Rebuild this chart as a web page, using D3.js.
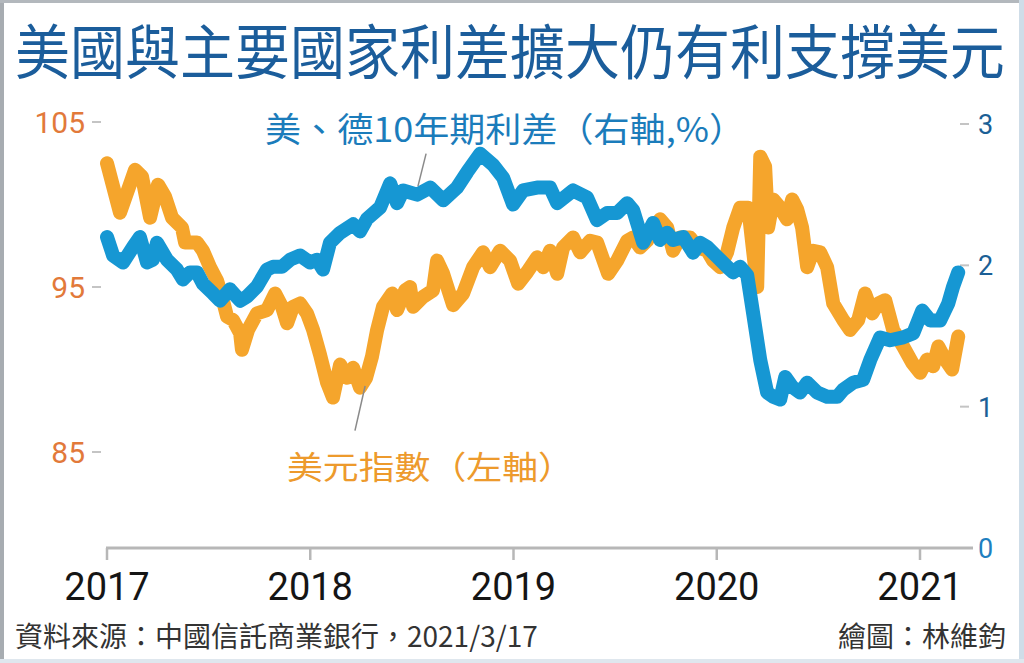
<!DOCTYPE html>
<html>
<head>
<meta charset="utf-8">
<script src="https://cdn.jsdelivr.net/npm/d3@7"></script>
<style>
  body { margin: 0; background: #fff; }
  svg { display: block; }
</style>
</head>
<body>
<div id="chart"></div>
<script>
// dollar index (left axis) - decimal year / value
var dollarYears = [2017.000, 2017.064, 2017.138, 2017.172, 2017.212, 2017.251, 2017.285, 2017.320, 2017.369, 2017.384,
  2017.443, 2017.472, 2017.507, 2017.541, 2017.566, 2017.591, 2017.620, 2017.655, 2017.664, 2017.694,
  2017.738, 2017.787, 2017.827, 2017.861, 2017.886, 2017.915, 2017.950, 2017.984, 2018.014, 2018.048,
  2018.083, 2018.112, 2018.147, 2018.181, 2018.211, 2018.245, 2018.275, 2018.304, 2018.329, 2018.358,
  2018.403, 2018.427, 2018.467, 2018.491, 2018.506, 2018.555, 2018.604, 2018.624, 2018.654, 2018.703,
  2018.752, 2018.801, 2018.850, 2018.885, 2018.934, 2018.983, 2019.023, 2019.067, 2019.116, 2019.146,
  2019.180, 2019.215, 2019.244, 2019.293, 2019.328, 2019.377, 2019.411, 2019.466, 2019.510, 2019.559,
  2019.589, 2019.623, 2019.657, 2019.721, 2019.756, 2019.785, 2019.820, 2019.869, 2019.904, 2019.953,
  2019.982, 2020.017, 2020.051, 2020.081, 2020.115, 2020.155, 2020.199, 2020.214, 2020.238, 2020.253,
  2020.278, 2020.312, 2020.346, 2020.371, 2020.396, 2020.420, 2020.445, 2020.474, 2020.509, 2020.543,
  2020.573, 2020.622, 2020.656, 2020.696, 2020.730, 2020.765, 2020.794, 2020.829, 2020.868, 2020.917,
  2020.962, 2021.001, 2021.035, 2021.065, 2021.090, 2021.124, 2021.158, 2021.188];
var dollarIndex = [102.5, 99.5, 102.1, 101.7, 99.2, 101.2, 100.5, 99.2, 98.6, 97.7,
  97.7, 97.2, 96.2, 95.4, 94.4, 93.2, 93.0, 92.2, 91.2, 92.4,
  93.4, 93.6, 94.6, 93.8, 92.8, 93.8, 94.0, 93.4, 92.4, 90.9,
  89.2, 88.3, 90.3, 89.5, 90.1, 88.9, 89.5, 90.8, 92.4, 93.8,
  94.6, 93.6, 94.8, 95.0, 93.8, 94.4, 94.8, 96.6, 95.8, 93.9,
  94.6, 96.2, 97.1, 96.2, 97.2, 96.6, 95.2, 95.9, 96.8, 96.2,
  97.2, 95.8, 97.4, 98.0, 97.1, 97.8, 97.7, 95.8, 96.6, 97.8,
  98.0, 97.4, 97.8, 99.1, 98.6, 97.2, 98.0, 98.0, 97.4, 97.2,
  96.6, 96.2, 97.1, 98.6, 99.8, 99.8, 95.0, 102.9, 102.3, 98.6,
  100.3, 99.8, 99.1, 100.3, 99.7, 98.6, 96.2, 97.2, 97.1, 96.2,
  94.0, 93.0, 92.4, 93.0, 94.6, 93.4, 94.0, 94.2, 92.4, 91.4,
  90.4, 89.8, 90.6, 90.2, 91.4, 90.6, 90.0, 92.0];

// US-German 10y spread (right axis, %)
var spreadYears = [2017.000, 2017.030, 2017.079, 2017.128, 2017.162, 2017.197, 2017.226, 2017.246, 2017.295, 2017.344,
  2017.374, 2017.408, 2017.443, 2017.472, 2017.522, 2017.556, 2017.605, 2017.655, 2017.689, 2017.738,
  2017.787, 2017.817, 2017.861, 2017.901, 2017.950, 2017.999, 2018.033, 2018.063, 2018.097, 2018.147,
  2018.211, 2018.245, 2018.280, 2018.344, 2018.393, 2018.427, 2018.457, 2018.526, 2018.590, 2018.654,
  2018.722, 2018.772, 2018.836, 2018.900, 2018.949, 2018.998, 2019.047, 2019.116, 2019.180, 2019.215,
  2019.293, 2019.362, 2019.411, 2019.461, 2019.510, 2019.559, 2019.589, 2019.638, 2019.687, 2019.721,
  2019.756, 2019.785, 2019.835, 2019.884, 2019.918, 2019.953, 2020.002, 2020.051, 2020.081, 2020.115,
  2020.150, 2020.179, 2020.214, 2020.248, 2020.278, 2020.312, 2020.337, 2020.371, 2020.410, 2020.445,
  2020.494, 2020.543, 2020.593, 2020.622, 2020.671, 2020.720, 2020.755, 2020.804, 2020.853, 2020.917,
  2020.967, 2021.011, 2021.050, 2021.099, 2021.139, 2021.163, 2021.188];
var spreadValues = [2.20, 2.07, 2.02, 2.13, 2.20, 2.02, 2.04, 2.16, 2.04, 1.97,
  1.90, 1.95, 1.95, 1.87, 1.80, 1.75, 1.83, 1.75, 1.78, 1.85,
  1.97, 1.99, 1.99, 2.04, 2.07, 2.02, 2.04, 1.97, 2.16, 2.23,
  2.29, 2.24, 2.33, 2.41, 2.58, 2.44, 2.53, 2.50, 2.55, 2.46,
  2.55, 2.66, 2.79, 2.71, 2.62, 2.43, 2.53, 2.55, 2.55, 2.44,
  2.53, 2.48, 2.32, 2.37, 2.37, 2.44, 2.39, 2.16, 2.30, 2.18,
  2.23, 2.18, 2.20, 2.09, 2.16, 2.13, 2.06, 1.99, 1.95, 1.99,
  1.93, 1.66, 1.33, 1.10, 1.07, 1.05, 1.21, 1.14, 1.10, 1.17,
  1.10, 1.07, 1.07, 1.12, 1.17, 1.19, 1.33, 1.49, 1.47, 1.49,
  1.52, 1.68, 1.61, 1.61, 1.73, 1.85, 1.95];

var yearTicks = [2017, 2018, 2019, 2020, 2021];
var leftTicks = [85, 95, 105];
var rightTicks = [1, 2, 3];

var svgWidth = 1024;
var svgHeight = 663;

var cjk = "'Noto Sans CJK TC', 'Noto Sans CJK SC', sans-serif";
var orange = "#f5a52c";
var blue = "#1697d3";

var svg = d3.select("#chart")
  .append("svg")
  .attr("width", svgWidth)
  .attr("height", svgHeight);

// frame
svg.append("rect").attr("x", 0).attr("y", 0).attr("width", svgWidth).attr("height", svgHeight).attr("fill", "#fff");
svg.append("rect").attr("x", 0).attr("y", 0).attr("width", 4).attr("height", svgHeight).attr("fill", "#a7acb1");
svg.append("rect").attr("x", 0).attr("y", 0).attr("width", svgWidth).attr("height", 3).attr("fill", "#b3b8bd");
svg.append("rect").attr("x", 1019).attr("y", 0).attr("width", 5).attr("height", svgHeight).attr("fill", "#cfdde8");
svg.append("rect").attr("x", 0).attr("y", 659).attr("width", svgWidth).attr("height", 4).attr("fill", "#dfe7ee");

// scales
var xLinear = d3.scaleLinear().domain([2017, 2021]).range([107, 920]);
var yLeft = d3.scaleLinear().domain([85, 105]).range([452, 122]);
var yRight = d3.scaleLinear().domain([0, 3]).range([548, 124]);

// title
svg.append("text")
  .attr("transform", "translate(15, 74) scale(1, 1.08)")
  .attr("font-family", cjk)
  .attr("font-size", "55px")
  .attr("font-weight", 400)
  .attr("fill", "#1b5d9b")
  .text("美國與主要國家利差擴大仍有利支撐美元");

// x axis
var xAxis = svg.append("g")
  .attr("transform", `translate(0, ${yRight(0)})`);
xAxis.append("line")
  .attr("x1", xLinear(2017) - 1)
  .attr("x2", 973)
  .attr("stroke", "#b7b7b7")
  .attr("stroke-width", 3);
xAxis.selectAll("line.tick")
  .data(yearTicks)
  .enter()
  .append("line")
  .attr("class", "tick")
  .attr("x1", d => xLinear(d))
  .attr("x2", d => xLinear(d))
  .attr("y1", 0)
  .attr("y2", 12)
  .attr("stroke", "#b7b7b7")
  .attr("stroke-width", 2.5);
xAxis.selectAll("text")
  .data(yearTicks)
  .enter()
  .append("text")
  .attr("x", d => xLinear(d))
  .attr("y", 52)
  .attr("text-anchor", "middle")
  .attr("font-family", "Roboto, 'Liberation Sans', sans-serif")
  .attr("font-size", "38px")
  .attr("fill", "#151515")
  .text(d => d);

// left axis
var leftAxis = svg.append("g");
leftAxis.selectAll("line")
  .data(leftTicks)
  .enter()
  .append("line")
  .attr("x1", 92)
  .attr("x2", 101)
  .attr("y1", d => yLeft(d))
  .attr("y2", d => yLeft(d))
  .attr("stroke", "#c4c4c4")
  .attr("stroke-width", 2);
leftAxis.selectAll("text")
  .data(leftTicks)
  .enter()
  .append("text")
  .attr("x", 85)
  .attr("y", d => yLeft(d) + 11)
  .attr("text-anchor", "end")
  .attr("font-family", "Roboto, 'Liberation Sans', sans-serif")
  .attr("font-size", "30px")
  .attr("fill", "#e2793a")
  .text(d => d);

// right axis
var rightAxis = svg.append("g");
rightAxis.selectAll("line")
  .data(rightTicks)
  .enter()
  .append("line")
  .attr("x1", 960)
  .attr("x2", 969)
  .attr("y1", d => yRight(d))
  .attr("y2", d => yRight(d))
  .attr("stroke", "#c4c4c4")
  .attr("stroke-width", 2);
rightAxis.selectAll("text")
  .data([0].concat(rightTicks))
  .enter()
  .append("text")
  .attr("x", 978)
  .attr("y", d => yRight(d) + 10)
  .attr("font-family", "Roboto, 'Liberation Sans', sans-serif")
  .attr("font-size", "27px")
  .attr("fill", d => d === 0 ? "#1f7fc0" : "#1b5f96")
  .text(d => d);

// lines
var dollarData = dollarYears.map((t, i) => ({t: t, v: dollarIndex[i]}));
var spreadData = spreadYears.map((t, i) => ({t: t, v: spreadValues[i]}));

var dollarLine = d3.line()
  .x(d => xLinear(d.t))
  .y(d => yLeft(d.v));
var spreadLine = d3.line()
  .x(d => xLinear(d.t))
  .y(d => yRight(d.v));

svg.append("path")
  .datum(dollarData)
  .attr("d", dollarLine)
  .attr("fill", "none")
  .attr("stroke", orange)
  .attr("stroke-width", 14)
  .attr("stroke-linejoin", "round")
  .attr("stroke-linecap", "round");

svg.append("path")
  .datum(spreadData)
  .attr("d", spreadLine)
  .attr("fill", "none")
  .attr("stroke", blue)
  .attr("stroke-width", 14)
  .attr("stroke-linejoin", "round")
  .attr("stroke-linecap", "round");

// series labels and leader lines
svg.append("line")
  .attr("x1", xLinear(2018.57)).attr("y1", yRight(2.79))
  .attr("x2", xLinear(2018.53)).attr("y2", yRight(2.56))
  .attr("stroke", "#8a8a8a")
  .attr("stroke-width", 1.5);
svg.append("line")
  .attr("x1", xLinear(2018.27)).attr("y1", yLeft(89.0))
  .attr("x2", xLinear(2018.22)).attr("y2", yLeft(86.3))
  .attr("stroke", "#8a8a8a")
  .attr("stroke-width", 1.5);

svg.append("text")
  .attr("x", 265)
  .attr("y", 142)
  .attr("textLength", 480)
  .attr("lengthAdjust", "spacingAndGlyphs")
  .attr("font-family", cjk)
  .attr("font-size", "34px")
  .attr("fill", "#1b7cbb")
  .text("美、德10年期利差（右軸,%）");

svg.append("text")
  .attr("x", 287)
  .attr("y", 479)
  .attr("textLength", 287)
  .attr("lengthAdjust", "spacingAndGlyphs")
  .attr("font-family", cjk)
  .attr("font-size", "32px")
  .attr("fill", "#ed9a2c")
  .text("美元指數（左軸）");

// footer
svg.append("text")
  .attr("x", 15)
  .attr("y", 647)
  .attr("font-family", cjk)
  .attr("font-size", "28px")
  .attr("fill", "#333")
  .text("資料來源：中國信託商業銀行，2021/3/17");

svg.append("text")
  .attr("x", 1006)
  .attr("y", 647)
  .attr("text-anchor", "end")
  .attr("font-family", cjk)
  .attr("font-size", "28px")
  .attr("fill", "#333")
  .text("繪圖：林維鈞");
</script>
</body>
</html>
